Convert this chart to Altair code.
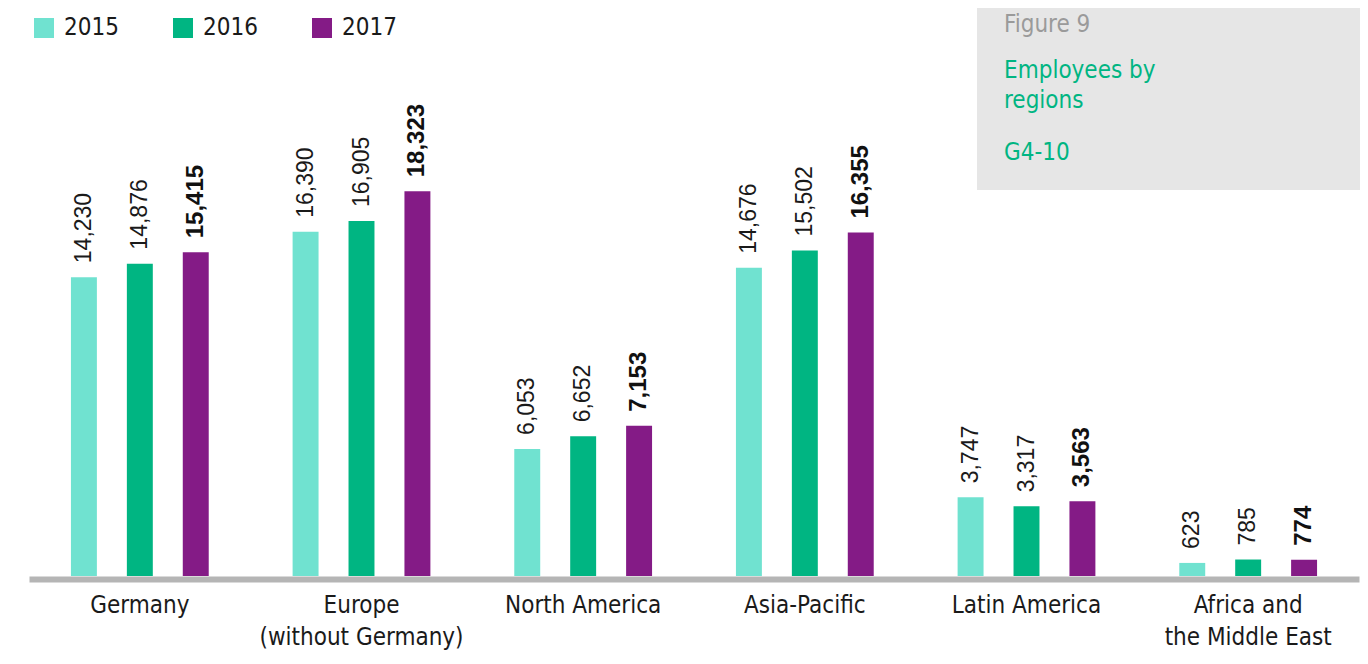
import altair as alt
import pandas as pd

regions = ["Germany", "Europe\n(without Germany)", "North America", "Asia-Pacific",
           "Latin America", "Africa and\nthe Middle East"]
years = ["2015", "2016", "2017"]
v2015 = [14230, 16390, 6053, 14676, 3747, 623]
v2016 = [14876, 16905, 6652, 15502, 3317, 785]
v2017 = [15415, 18323, 7153, 16355, 3563, 774]
colors = ["#70e2d0", "#00b582", "#841b86"]

box_lines = ["Figure 9", "Employees by\nregions", "G4-10"]
box_colors = ["#9a9a9a", "#00b582", "#00b582"]

rows = []
for yr, vals in zip(years, [v2015, v2016, v2017]):
    for r, v in zip(regions, vals):
        rows.append({"region": r, "year": yr, "value": v})
df = pd.DataFrame(rows)

W, H = 1330, 568
AX_FONT = "Liberation Sans Narrow, DejaVu Sans Condensed, Roboto Condensed, Roboto, sans-serif"
NUM_FONT = "Liberation Sans, Arial, sans-serif"

x_enc = alt.X("region:N", sort=regions, title=None,
              scale=alt.Scale(paddingInner=0, paddingOuter=0),
              axis=alt.Axis(labelExpr="split(datum.label, '\\n')", labelAngle=0,
                            labelFontSize=24, labelFont=AX_FONT, labelColor="#1a1a1a",
                            labelPadding=14, labelLineHeight=32, labelBaseline="top",
                            labelLimit=0,
                            domainColor="#b5b5b5", domainWidth=6, offset=3,
                            ticks=False, grid=False))
xo_enc = alt.XOffset("year:N", sort=years,
                     scale=alt.Scale(paddingInner=0.536, paddingOuter=0.75))
y_scale = alt.Scale(domain=[0, 27050], nice=False)

base = alt.Chart(df)

bars = base.mark_bar().encode(
    x=x_enc, xOffset=xo_enc,
    y=alt.Y("value:Q", scale=y_scale, axis=None),
    color=alt.Color("year:N", sort=years,
                    scale=alt.Scale(domain=years, range=colors),
                    legend=alt.Legend(orient="none", legendX=3, legendY=8,
                                      direction="horizontal", title=None,
                                      symbolType="square", symbolSize=400,
                                      symbolStrokeWidth=0, symbolOpacity=1,
                                      labelFontSize=24, labelFont=AX_FONT,
                                      labelColor="#1a1a1a", labelOffset=8,
                                      columnPadding=52)),
)

labels_norm = base.transform_filter(alt.datum.year != "2017").mark_text(
    angle=270, align="left", baseline="middle", dx=14,
    fontSize=23, font=NUM_FONT, color="#1a1a1a"
).encode(x=x_enc, xOffset=xo_enc,
         y=alt.Y("value:Q", scale=y_scale, axis=None),
         text=alt.Text("value:Q", format=",d"))

labels_bold = base.transform_filter(alt.datum.year == "2017").mark_text(
    angle=270, align="left", baseline="middle", dx=14,
    fontSize=24, font=NUM_FONT, fontWeight="bold", color="#111111"
).encode(x=x_enc, xOffset=xo_enc,
         y=alt.Y("value:Q", scale=y_scale, axis=None),
         text=alt.Text("value:Q", format=",d"))

box_df = pd.DataFrame({"t": ["box"]})
box = alt.Chart(box_df).mark_rect(color="#e6e6e6").encode(
    x=alt.value(948), x2=alt.value(W + 1), y=alt.value(0), y2=alt.value(182))

txt_df = pd.DataFrame({"text": box_lines, "c": box_colors, "yy": [24, 70, 152]})
box_text = alt.Chart(txt_df).mark_text(
    align="left", baseline="alphabetic", fontSize=24, font=AX_FONT,
    lineBreak="\n", lineHeight=30
).encode(x=alt.value(975), y=alt.Y("yy:Q", scale=None),
         text="text:N", color=alt.Color("c:N", scale=None))

chart = alt.layer(box, bars, labels_norm, labels_bold, box_text).properties(
    width=W, height=H,
    autosize=alt.AutoSizeParams(type="none"),
    padding={"left": 21, "top": 0, "right": 1, "bottom": 80},
).configure_view(stroke=None).resolve_scale(color="independent")

chart.save("out.html", embed_options={"renderer": "svg", "actions": False})
